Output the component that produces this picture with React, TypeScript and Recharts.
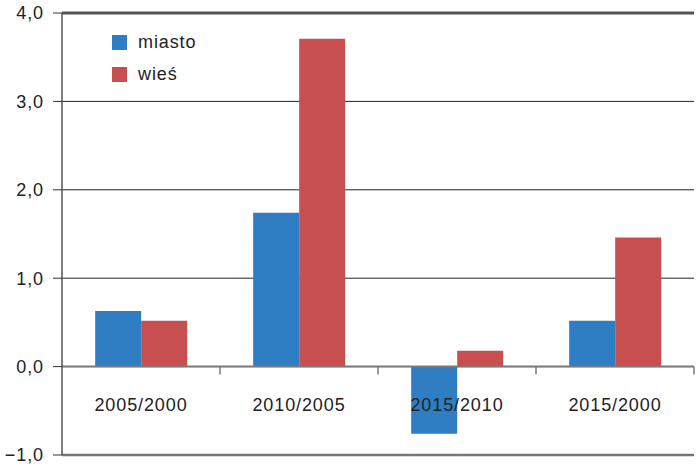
import React from "react";
import { BarChart, Bar, XAxis, YAxis, CartesianGrid, ReferenceLine } from "recharts";

const categories = ["2005/2000", "2010/2005", "2015/2010", "2015/2000"];
const miasto = [0.63, 1.74, -0.76, 0.52];
const wies = [0.52, 3.71, 0.18, 1.46];
const yTicks = [-1, 0, 1, 2, 3, 4];

const BLUE = "#2f7dc2";
const RED = "#c84f4f";
const FONT = "'Liberation Sans', Arial, sans-serif";

const data = categories.map((name, i) => ({ name, miasto: miasto[i], wies: wies[i] }));

function fmt(v: number): string {
  const s = Math.abs(v).toFixed(1).replace(".", ",");
  return v < 0 ? "\u2212" + s : s;
}

// category labels sit under the zero line, not at the bottom axis
const renderCategoryTick = (props: any) => {
  const { x, y, payload } = props;
  return (
    <text
      x={x}
      y={y - 50}
      textAnchor="middle"
      dominantBaseline="central"
      fontFamily={FONT}
      fontSize={18}
      letterSpacing={0.9}
      fill="#222"
    >
      {payload.value}
    </text>
  );
};

// zero line with small tick marks at the category boundaries
const ZeroLine = (props: any) => {
  const { x1, y1, x2 } = props;
  const step = (x2 - x1) / categories.length;
  return (
    <g>
      <line x1={x1} x2={x2} y1={y1} y2={y1} stroke="#7a7a7a" strokeWidth={2} />
      {categories.map((c, i) => (
        <line
          key={c}
          x1={x1 + (i + 1) * step}
          x2={x1 + (i + 1) * step}
          y1={y1}
          y2={y1 + 8}
          stroke="#7a7a7a"
          strokeWidth={1.5}
        />
      ))}
    </g>
  );
};

const LegendBox = () => (
  <div
    style={{
      position: "absolute",
      left: 112,
      top: 31,
      fontFamily: FONT,
      fontSize: 18,
      letterSpacing: 0.9,
      color: "#222",
    }}
  >
    {[
      { label: "miasto", color: BLUE },
      { label: "wieś", color: RED },
    ].map((item) => (
      <div key={item.label} style={{ display: "flex", alignItems: "center", height: 22, marginBottom: 10 }}>
        <span style={{ display: "inline-block", width: 15, height: 15, background: item.color, marginRight: 11 }} />
        <span>{item.label}</span>
      </div>
    ))}
  </div>
);

export default function App() {
  return (
    <div style={{ position: "absolute", left: 0, top: 0, width: 700, height: 467, background: "#fff" }}>
      <BarChart
        width={700}
        height={467}
        data={data}
        margin={{ top: 13, right: 6, bottom: 0, left: 0 }}
        barCategoryGap="21%"
        barGap={0}
      >
        <CartesianGrid horizontal vertical={false} stroke="#222" strokeWidth={1} />
        <XAxis
          dataKey="name"
          height={12}
          tickLine={false}
          tickSize={0}
          tickMargin={0}
          axisLine={{ stroke: "#777", strokeWidth: 2.5 }}
          tick={renderCategoryTick}
          interval={0}
        />
        <YAxis
          width={62}
          domain={[-1, 4]}
          ticks={yTicks}
          tickFormatter={fmt}
          tickSize={9}
          tickMargin={9}
          tickLine={{ stroke: "#333" }}
          axisLine={{ stroke: "#555", strokeWidth: 1.5 }}
          tick={{ fontFamily: FONT, fontSize: 18, fill: "#222", letterSpacing: 0.9 }}
          allowDataOverflow
        />
        <Bar dataKey="miasto" fill={BLUE} isAnimationActive={false} />
        <Bar dataKey="wies" fill={RED} isAnimationActive={false} />
        <ReferenceLine y={4} stroke="#555" strokeWidth={3} />
        <ReferenceLine y={0} shape={<ZeroLine />} />
      </BarChart>
      <LegendBox />
    </div>
  );
}
